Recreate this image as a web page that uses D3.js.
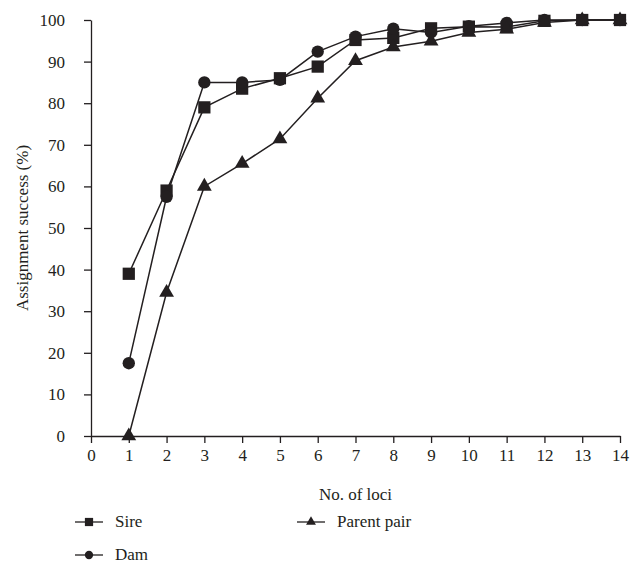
<!DOCTYPE html>
<html lang="en">
<head>
<meta charset="UTF-8">
<title>assignment success</title>
<script src="https://d3js.org/d3.v7.min.js"></script>
<style>
  body { margin: 0; background: #fff; }
  text { font-family: "Liberation Serif", "DejaVu Serif", serif; fill: #231f20; }
</style>
</head>
<body>
<script>
  // loci counts and series values (%)
  const loci = [1, 2, 3, 4, 5, 6, 7, 8, 9, 10, 11, 12, 13, 14]
  const sire = [39, 59, 79, 83.5, 86, 88.8, 95.2, 95.7, 98, 98.4, 98.3, 99.8, 100, 100]
  const dam = [17.5, 57.5, 85, 85, 85.6, 92.4, 96, 97.9, 97, 98.5, 99.3, 100, 100, 100]
  const parentPair = [0, 34.5, 60, 65.5, 71.4, 81.2, 90.2, 93.5, 94.9, 97, 97.8, 99.4, 100, 100]
  const xTicks = d3.range(0, 15)
  const yTicks = d3.range(0, 101, 10)

  const ink = '#231f20'
  const W = 631, H = 567
  const m = {left: 91, right: 11, top: 20, bottom: 131}

  const svg = d3.select('body').append('svg').attr('width', W).attr('height', H)

  const x = d3.scaleLinear().domain([0, 14]).range([m.left, W - m.right])
  const y = d3.scaleLinear().domain([0, 100]).range([H - m.bottom, m.top])

  const xAxis = svg.append('g').attr('transform', 'translate(0,' + (H - m.bottom) + ')')
    .call(d3.axisBottom(x).tickValues(xTicks).tickSize(7).tickPadding(6).tickSizeOuter(0))
  const yAxis = svg.append('g').attr('transform', 'translate(' + m.left + ',0)')
    .call(d3.axisLeft(y).tickValues(yTicks).tickSize(7).tickPadding(19).tickSizeOuter(0))
  ;[xAxis, yAxis].forEach(a => {
    a.selectAll('path, line').attr('stroke', ink).attr('stroke-width', 1.3)
    a.selectAll('text').style('font-size', '17px').attr('fill', ink)
      .style('font-family', '"Liberation Serif", serif')
  })

  svg.append('text').attr('x', (m.left + W - m.right) / 2).attr('y', 500)
    .attr('text-anchor', 'middle').style('font-size', '17px').text('No. of loci')
  svg.append('text').attr('transform', 'translate(28,' + ((m.top + H - m.bottom) / 2) + ') rotate(-90)')
    .attr('text-anchor', 'middle').style('font-size', '17px').text('Assignment success (%)')

  const series = [
    {name: 'Sire', values: sire, shape: d3.symbolSquare, size: 150},
    {name: 'Dam', values: dam, shape: d3.symbolCircle, size: 120},
    {name: 'Parent pair', values: parentPair, shape: d3.symbolTriangle, size: 95}
  ]

  const line = d3.line().x(d => x(d[0])).y(d => y(d[1]))

  series.forEach(s => {
    const pts = loci.map((l, i) => [l, s.values[i]])
    svg.append('path').attr('d', line(pts)).attr('fill', 'none')
      .attr('stroke', ink).attr('stroke-width', 1.5)
  })
  series.forEach(s => {
    const pts = loci.map((l, i) => [l, s.values[i]])
    svg.selectAll(null).data(pts).enter().append('path')
      .attr('d', d3.symbol().type(s.shape).size(s.size))
      .attr('transform', d => 'translate(' + x(d[0]) + ',' + y(d[1]) + ')')
      .attr('fill', ink)
  })

  // legend
  const legendPos = [[75, 522], [75, 555], [297, 522]]
  series.forEach((s, i) => {
    const g = svg.append('g').attr('transform', 'translate(' + legendPos[i][0] + ',' + legendPos[i][1] + ')')
    g.append('line').attr('x1', 0).attr('x2', 28).attr('stroke', ink).attr('stroke-width', 1.3)
    g.append('path').attr('d', d3.symbol().type(s.shape).size(s.size * 0.45))
      .attr('transform', 'translate(14,0)').attr('fill', ink)
    g.append('text').attr('x', 40).attr('y', 5).style('font-size', '17px').text(s.name)
  })
</script>
</body>
</html>
